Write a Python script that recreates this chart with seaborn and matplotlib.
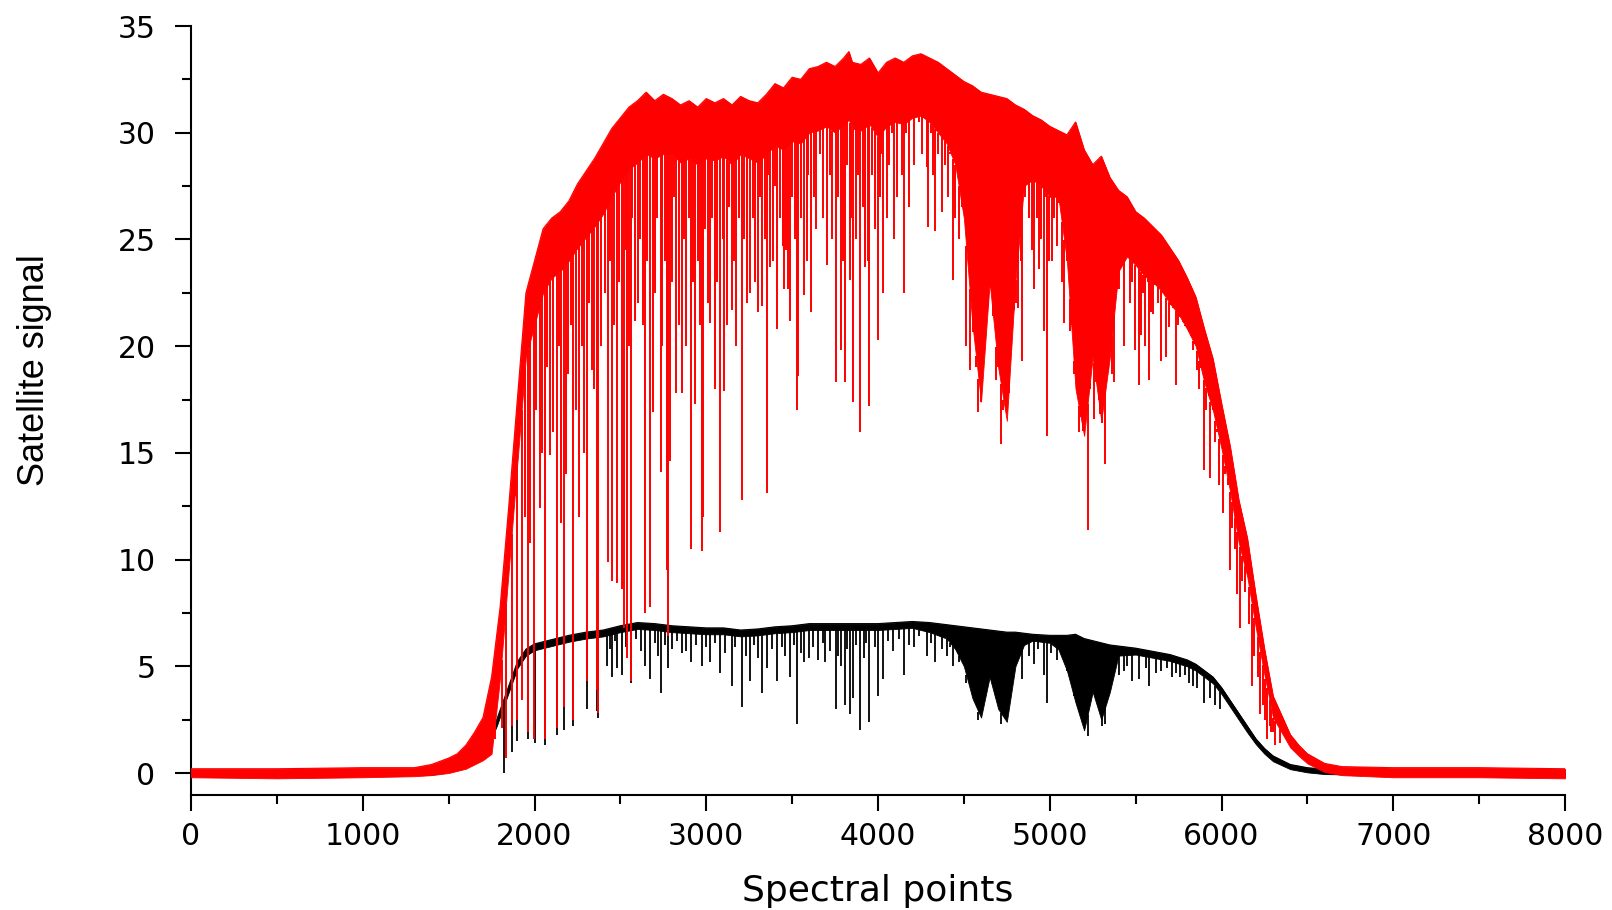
import numpy as np
import matplotlib
matplotlib.use("Agg")
import matplotlib.pyplot as plt
from matplotlib.ticker import MultipleLocator
import seaborn as sns

# ---------------- data ----------------
# Red spectrum: upper edge and lower edge of the dense (solid-looking) band
red_x = [0, 500, 1000, 1300, 1400, 1500, 1550, 1600, 1650, 1700, 1750, 1800, 1850, 1900,
         1950, 2000, 2050, 2100, 2150, 2200, 2250, 2300, 2350, 2400, 2450, 2500, 2550,
         2600, 2650, 2700, 2750, 2800, 2850, 2900, 2950, 3000, 3050, 3100, 3150, 3200,
         3250, 3300, 3350, 3400, 3450, 3500, 3550, 3600, 3650, 3700, 3750, 3800, 3830,
         3850, 3900, 3950, 4000, 4050, 4100, 4150, 4200, 4250, 4300, 4350, 4400, 4450,
         4500, 4550, 4600, 4650, 4700, 4750, 4800, 4850, 4900, 4950, 5000, 5050, 5100,
         5150, 5200, 5250, 5300, 5350, 5400, 5450, 5500, 5550, 5600, 5650, 5700, 5750,
         5800, 5850, 5900, 5950, 6000, 6050, 6100, 6150, 6200, 6250, 6300, 6350, 6400,
         6450, 6500, 6600, 6700, 7000, 7500, 8000]
red_top = [0.2, 0.2, 0.25, 0.25, 0.4, 0.7, 0.9, 1.3, 1.9, 2.6, 4.5, 7.8, 12.5, 17.5,
           22.5, 24.0, 25.5, 26.0, 26.3, 26.8, 27.6, 28.2, 28.8, 29.5, 30.2, 30.7, 31.2,
           31.5, 31.9, 31.5, 31.8, 31.6, 31.3, 31.5, 31.2, 31.6, 31.4, 31.6, 31.3, 31.7,
           31.5, 31.4, 31.8, 32.3, 32.1, 32.6, 32.5, 33.0, 33.1, 33.3, 33.1, 33.5, 33.8,
           33.3, 33.2, 33.5, 32.8, 33.3, 33.5, 33.3, 33.6, 33.7, 33.5, 33.3, 33.0, 32.7,
           32.4, 32.2, 31.9, 31.8, 31.7, 31.6, 31.3, 31.1, 30.8, 30.6, 30.3, 30.1, 29.9,
           30.5, 29.2, 28.5, 28.9, 27.9, 27.3, 27.0, 26.3, 26.0, 25.6, 25.2, 24.6, 24.0,
           23.2, 22.3, 20.8, 19.4, 17.3, 15.3, 12.8, 11.0, 8.3, 5.8, 3.6, 2.7, 1.8,
           1.3, 0.9, 0.45, 0.3, 0.25, 0.25, 0.2]
red_low = [-0.2, -0.25, -0.2, -0.15, -0.1, 0.0, 0.1, 0.2, 0.4, 0.6, 0.9, 4.5, 9.5, 14.5,
           19.5, 21.0, 22.5, 23.2, 23.5, 24.0, 24.6, 25.1, 25.6, 26.2, 27.0, 27.7, 28.3,
           28.6, 29.0, 28.8, 29.0, 29.0, 28.6, 28.8, 28.5, 28.8, 28.7, 28.9, 28.5, 29.0,
           28.8, 28.6, 29.0, 29.4, 29.2, 29.6, 29.5, 30.0, 30.1, 30.3, 30.0, 30.4, 30.6,
           30.2, 30.1, 30.4, 29.8, 30.3, 30.5, 30.4, 30.7, 30.8, 30.5, 30.0, 29.5, 28.5,
           26.0, 21.0, 17.4, 23.0, 19.0, 16.5, 23.0, 27.5, 27.8, 27.5, 27.0, 27.0, 24.0,
           18.0, 15.8, 19.5, 16.5, 19.5, 23.5, 24.2, 23.8, 23.3, 23.0, 22.6, 22.0, 21.5,
           20.8, 20.0, 18.3, 17.0, 15.2, 13.2, 10.8, 9.2, 6.8, 4.6, 2.6, 1.9, 1.2,
           0.8, 0.45, 0.05, -0.1, -0.2, -0.2, -0.25]

# Red absorption lines: position and minimum value
red_dip_x = [1770, 1808, 1834, 1867, 1885, 1900, 1925, 1945, 1960, 1974, 1999, 2010, 2032,
             2045, 2061, 2075, 2090, 2110, 2129, 2140, 2152, 2172, 2185, 2197, 2210, 2226,
             2240, 2259, 2275, 2290, 2304, 2320, 2333, 2345, 2362, 2372, 2390, 2410, 2430,
             2440, 2449, 2460, 2478, 2490, 2507, 2521, 2530, 2538, 2550, 2560, 2570, 2585,
             2600, 2615, 2630, 2643, 2655, 2672, 2688, 2700, 2715, 2735, 2745, 2760, 2770,
             2779, 2789, 2800, 2810, 2824, 2840, 2857, 2870, 2885, 2900, 2911, 2920, 2935,
             2950, 2965, 2974, 2983, 2995, 3010, 3022, 3035, 3051, 3065, 3080, 3095, 3106,
             3120, 3135, 3148, 3160, 3175, 3190, 3207, 3220, 3235, 3255, 3270, 3285, 3304,
             3315, 3327, 3340, 3352, 3360, 3372, 3390, 3400, 3414, 3430, 3445, 3455, 3465,
             3478, 3488, 3500, 3515, 3527, 3537, 3550, 3570, 3585, 3595, 3608, 3625, 3640,
             3660, 3680, 3702, 3720, 3735, 3754, 3770, 3783, 3795, 3805, 3820, 3838, 3845,
             3857, 3870, 3885, 3896, 3910, 3925, 3940, 3950, 3965, 3980, 3999, 4010, 4020,
             4032, 4050, 4065, 4080, 4094, 4110, 4125, 4140, 4152, 4165, 4180, 4195, 4210,
             4240, 4255, 4270, 4284, 4294, 4310, 4320, 4333, 4350, 4371, 4390, 4405, 4420,
             4436, 4450, 4470, 4490, 4513, 4533, 4555, 4570, 4585, 4600, 4620, 4640, 4653,
             4670, 4688, 4700, 4715, 4730, 4760, 4775, 4790, 4801, 4818, 4830, 4840, 4855,
             4867, 4880, 4895, 4911, 4925, 4935, 4950, 4964, 4975, 4983, 4995, 5012, 5025,
             5041, 5055, 5070, 5084, 5100, 5115, 5125, 5139, 5168, 5180, 5195, 5220, 5235,
             5255, 5270, 5284, 5295, 5307, 5323, 5340, 5362, 5375, 5390, 5404, 5420, 5434,
             5450, 5465, 5478, 5490, 5498, 5517, 5525, 5533, 5545, 5556, 5570, 5579, 5591,
             5600, 5615, 5630, 5647, 5660, 5678, 5694, 5705, 5720, 5733, 5745, 5760, 5775,
             5790, 5808, 5820, 5834, 5845, 5857, 5870, 5880, 5896, 5910, 5925, 5935, 5950,
             5964, 5975, 5987, 6008, 6020, 6035, 6051, 6060, 6076, 6090, 6106, 6120, 6135,
             6160, 6177, 6190, 6210, 6226, 6240, 6255, 6265, 6280, 6290, 6300, 6313, 6340]
red_dip_low = [1.6, 2.1, 0.7, 2.2, 14.0, 2.5, 3.4, 12.0, 1.9, 10.8, 1.6, 17.0, 12.4,
               15.0, 1.6, 19.0, 14.9, 16.0, 2.1, 20.0, 11.7, 3.1, 14.0, 18.7, 21.0, 2.5,
               17.0, 12.0, 20.0, 15.0, 4.3, 22.0, 18.9, 18.0, 3.9, 2.8, 20.0, 22.5, 9.9,
               24.0, 9.0, 21.0, 8.9, 23.0, 8.6, 6.8, 24.5, 5.4, 20.0, 4.3, 26.0, 21.2,
               22.0, 25.0, 21.0, 7.5, 24.0, 7.8, 16.9, 22.5, 26.0, 14.1, 20.0, 24.0, 9.5,
               6.4, 14.6, 23.0, 27.0, 17.8, 21.0, 17.8, 25.0, 20.0, 26.0, 10.5, 23.0, 17.3,
               24.0, 21.0, 10.4, 12.0, 25.5, 22.0, 21.1, 26.0, 18.0, 23.0, 11.3, 25.0, 17.9,
               21.0, 26.5, 21.7, 24.0, 20.0, 26.0, 12.8, 25.0, 22.0, 22.5, 26.0, 23.0, 21.6,
               27.0, 21.9, 25.0, 13.1, 28.0, 23.7, 24.0, 27.5, 20.8, 26.0, 24.7, 22.7, 24.5,
               22.7, 21.2, 27.0, 25.0, 17.0, 18.6, 26.0, 22.4, 24.0, 28.0, 21.6, 27.0, 25.5,
               29.0, 26.0, 23.8, 28.0, 25.0, 18.3, 27.0, 19.8, 24.0, 18.3, 28.5, 23.1, 26.0,
               17.4, 25.0, 28.0, 16.0, 26.5, 23.7, 24.0, 17.2, 28.0, 25.5, 20.3, 27.0, 29.0,
               22.5, 26.0, 28.5, 30.0, 25.0, 27.0, 30.5, 28.0, 22.5, 30.0, 26.5, 31.0, 28.5,
               30.5, 29.0, 31.0, 28.4, 25.6, 30.0, 28.0, 25.4, 29.0, 26.3, 28.5, 27.0, 29.0,
               23.1, 26.0, 25.0, 27.5, 20.0, 18.9, 22.0, 19.0, 16.9, 18.0, 21.0, 24.0, 25.4,
               22.0, 18.4, 20.0, 15.4, 17.0, 20.0, 21.8, 26.0, 22.0, 21.8, 24.0, 19.3, 27.0,
               27.9, 26.0, 24.5, 22.7, 26.0, 23.6, 25.0, 20.7, 27.0, 15.8, 24.0, 24.0, 26.0,
               24.7, 27.0, 23.0, 21.1, 25.0, 20.7, 22.0, 18.7, 16.0, 17.0, 20.0, 11.4, 18.0,
               16.6, 20.0, 17.9, 19.0, 16.4, 14.5, 20.0, 18.7, 18.3, 23.0, 22.7, 24.0, 20.0,
               24.5, 22.0, 23.0, 24.0, 19.8, 18.2, 23.5, 20.5, 22.5, 20.0, 23.0, 18.4, 21.6,
               21.5, 24.0, 22.0, 19.3, 23.0, 19.5, 20.9, 22.0, 23.5, 18.2, 21.0, 22.2, 22.5,
               21.0, 21.6, 20.5, 19.8, 21.5, 18.9, 18.0, 20.0, 14.2, 17.0, 18.5, 13.8, 17.5,
               15.5, 16.0, 13.5, 12.2, 14.0, 13.5, 9.5, 11.5, 10.5, 8.4, 6.8, 9.0, 8.5,
               7.0, 4.1, 5.5, 4.5, 2.75, 3.2, 2.5, 1.6, 2.2, 1.9, 1.9, 1.3, 1.4]

# Black spectrum: upper and lower edge of its band
black_x = [0, 1000, 1400, 1500, 1585, 1682, 1740, 1780, 1820, 1860, 1900, 1950, 2000, 2100,
           2200, 2300, 2400, 2500, 2600, 2700, 2800, 2900, 3000, 3100, 3200, 3300, 3400,
           3500, 3600, 3700, 3800, 3900, 4000, 4100, 4200, 4300, 4400, 4450, 4500, 4550,
           4600, 4650, 4700, 4750, 4800, 4850, 4900, 5000, 5050, 5100, 5150, 5200, 5250,
           5300, 5350, 5400, 5500, 5600, 5700, 5800, 5850, 5900, 5950, 6000, 6050, 6100,
           6150, 6200, 6250, 6300, 6400, 6500, 6600, 7000, 8000]
black_top = [0.12, 0.12, 0.18, 0.3, 0.5, 1.2, 1.7, 2.5, 3.4, 4.3, 5.2, 5.8, 6.05, 6.25,
             6.45, 6.6, 6.7, 6.9, 7.05, 7.0, 6.9, 6.85, 6.8, 6.8, 6.7, 6.75, 6.85,
             6.9, 7.0, 7.0, 7.0, 7.0, 7.0, 7.05, 7.1, 7.05, 6.95, 6.9, 6.85, 6.8,
             6.75, 6.7, 6.65, 6.6, 6.6, 6.55, 6.5, 6.45, 6.45, 6.45, 6.5, 6.3, 6.2,
             6.1, 6.0, 5.95, 5.85, 5.7, 5.55, 5.3, 5.1, 4.8, 4.5, 4.0, 3.4, 2.8,
             2.2, 1.6, 1.15, 0.8, 0.4, 0.25, 0.18, 0.12, 0.12]
black_low = [-0.12, -0.12, -0.08, 0.05, 0.3, 0.95, 1.45, 2.2, 3.1, 4.0, 4.9, 5.5, 5.75, 5.95,
             6.15, 6.3, 6.4, 6.6, 6.75, 6.7, 6.6, 6.55, 6.5, 6.5, 6.4, 6.45, 6.55,
             6.6, 6.7, 6.7, 6.7, 6.7, 6.7, 6.75, 6.8, 6.6, 6.3, 5.8, 5.0, 3.5,
             2.6, 4.5, 3.0, 2.4, 5.0, 6.0, 6.2, 6.1, 5.8, 4.8, 3.3, 2.0, 3.8,
             2.5, 3.8, 5.5, 5.55, 5.4, 5.25, 5.0, 4.8, 4.5, 4.2, 3.7, 3.1, 2.5,
             1.9, 1.35, 0.9, 0.55, 0.18, 0.03, -0.05, -0.1, -0.12]

# Black absorption lines: position and minimum value
black_dip_x = [1822, 1867, 1900, 1960, 2000, 2061, 2129, 2172, 2226, 2304, 2362, 2372, 2420,
               2440, 2449, 2470, 2478, 2507, 2530, 2560, 2590, 2620, 2643, 2672, 2700, 2720,
               2735, 2760, 2779, 2800, 2830, 2857, 2880, 2911, 2940, 2974, 3000, 3022, 3050,
               3080, 3110, 3148, 3170, 3207, 3230, 3255, 3280, 3300, 3327, 3352, 3380, 3414,
               3440, 3460, 3488, 3510, 3527, 3550, 3570, 3600, 3620, 3650, 3680, 3690, 3720,
               3754, 3770, 3783, 3805, 3820, 3838, 3857, 3870, 3896, 3920, 3930, 3950, 3980,
               3999, 4032, 4060, 4090, 4120, 4152, 4180, 4210, 4240, 4284, 4310, 4333, 4370,
               4400, 4420, 4436, 4470, 4513, 4585, 4715, 4840, 4880, 4911, 4930, 4964, 4983,
               5010, 5041, 5070, 5100, 5139, 5220, 5307, 5323, 5404, 5434, 5450, 5478, 5517,
               5560, 5579, 5620, 5647, 5680, 5710, 5733, 5760, 5790, 5810, 5834, 5857, 5900,
               5935, 5964, 5990]
black_dip_low = [0.0, 1.0, 1.5, 1.6, 1.4, 1.3, 1.8, 2.0, 2.2, 3.0, 2.9, 2.6, 5.0,
                 5.8, 4.5, 6.2, 4.9, 4.6, 5.9, 4.2, 6.3, 5.7, 5.0, 4.4, 6.1, 5.5,
                 3.75, 6.0, 4.9, 5.8, 6.2, 5.6, 5.7, 5.2, 6.0, 5.0, 5.9, 5.2, 6.1,
                 4.7, 5.6, 4.1, 5.9, 3.1, 5.5, 4.3, 6.0, 5.4, 3.75, 4.9, 5.8, 4.3,
                 5.9, 5.5, 4.5, 6.0, 2.3, 5.6, 5.2, 5.4, 5.9, 5.3, 6.1, 5.2, 5.7,
                 3.0, 5.5, 5.0, 3.2, 5.8, 2.75, 3.5, 6.0, 2.0, 5.4, 6.1, 2.4, 5.9,
                 3.6, 4.4, 6.2, 5.7, 6.3, 4.6, 6.0, 5.9, 6.4, 5.5, 6.1, 5.2, 5.8,
                 5.5, 5.9, 5.0, 5.2, 4.2, 2.5, 2.3, 4.4, 5.5, 5.1, 5.8, 4.6, 3.3,
                 5.6, 5.3, 5.4, 4.9, 4.0, 1.75, 2.2, 2.3, 4.6, 4.8, 5.0, 4.3, 4.4,
                 4.9, 4.1, 4.7, 4.8, 4.9, 4.5, 4.7, 4.5, 4.6, 4.2, 4.1, 4.0, 3.3,
                 3.5, 3.2, 3.0]

x_ticks = [0, 1000, 2000, 3000, 4000, 5000, 6000, 7000, 8000]
y_ticks = [0, 5, 10, 15, 20, 25, 30, 35]
x_label = "Spectral points"
y_label = "Satellite signal"

# ---------------- drawing ----------------
sns.set_style("ticks")
plt.rcParams["font.family"] = ["DejaVu Sans"]

fig = plt.figure(figsize=(16.12, 9.10), dpi=100)
ax = fig.add_axes([191 / 1612, 1 - 795 / 910, (1565 - 191) / 1612, (795 - 26) / 910])

# black signal (drawn underneath)
ax.fill_between(black_x, black_low, black_top, color="black", linewidth=0.6, zorder=2)
b_anchor = np.interp(black_dip_x, black_x, black_low)
ax.vlines(black_dip_x, black_dip_low, b_anchor, color="black", linewidth=1.3, zorder=2)
sns.lineplot(x=black_x, y=black_top, color="black", linewidth=0.8, ax=ax, zorder=2)

# red signal (on top)
ax.fill_between(red_x, red_low, red_top, color="red", linewidth=0.6, zorder=3)
r_anchor = np.interp(red_dip_x, red_x, red_low)
ax.vlines(red_dip_x, red_dip_low, r_anchor, color="red", linewidth=1.4, zorder=3)
sns.lineplot(x=red_x, y=red_top, color="red", linewidth=0.8, ax=ax, zorder=3)

ax.set_xlim(0, 8000)
ax.set_ylim(-1.03, 35)
ax.set_xticks(x_ticks)
ax.set_yticks(y_ticks)
ax.xaxis.set_minor_locator(MultipleLocator(500))
ax.yaxis.set_minor_locator(MultipleLocator(2.5))

sns.despine(ax=ax, top=True, right=True)
for s in ("left", "bottom"):
    ax.spines[s].set_linewidth(1.5)
    ax.spines[s].set_color("black")

ax.tick_params(axis="both", which="major", direction="out", length=11.5, width=1.5,
               color="black", labelsize=21.5, labelcolor="black")
ax.tick_params(axis="both", which="minor", direction="out", length=6.5, width=1.5,
               color="black")
ax.tick_params(axis="y", which="major", pad=14)
ax.tick_params(axis="x", which="major", pad=8)

ax.set_xlabel(x_label, fontsize=26, color="black")
ax.xaxis.set_label_coords(0.5, -0.103)
ax.xaxis.label.set_va("top")
ax.set_ylabel(y_label, fontsize=26, family=["Liberation Sans", "DejaVu Sans"], color="black")
ax.yaxis.set_label_coords(-0.101, 0.553)

ax.grid(False)
fig.savefig("out.png", dpi=100, facecolor="white")
